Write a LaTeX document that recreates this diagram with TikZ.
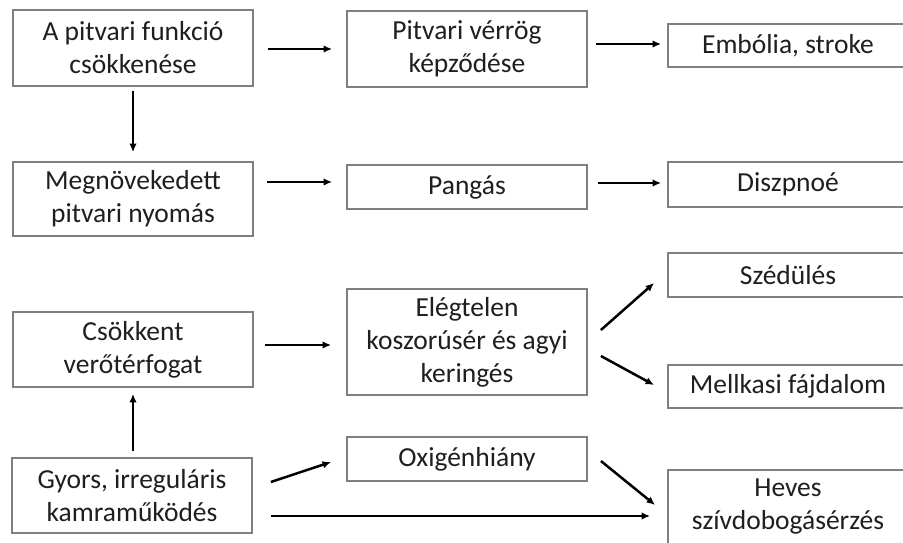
\documentclass[tikz,border=0pt]{standalone}
\usepackage{fontspec}
\setmainfont{Carlito}
\usetikzlibrary{arrows.meta}
\definecolor{boxline}{HTML}{7F7F7F}
\definecolor{txt}{HTML}{1F1F1F}
\begin{document}
\begin{tikzpicture}[x=1pt,y=-1pt,
  box/.style={draw=boxline,line width=1.8pt,fill=white,text=txt,align=center,
    minimum width=240pt,inner sep=0pt,font=\fontsize{27.5}{33}\selectfont},
  arr/.style={-{Latex[length=8.5pt,width=7.5pt]},line width=2.5pt,black}]
\useasboundingbox (0,0) rectangle (903,543);
\clip (0,0) rectangle (903,543);
\fill[white] (0,0) rectangle (903,543);
\node[box,minimum height=76pt] (A) at (133,48) {A pitvari funkció\\csökkenése};
\node[box,minimum height=76pt] (B) at (467,49) {Pitvari vérrög\\képződése};
\node[box,minimum height=43pt] (C) at (788,45.5) {Embólia, stroke};
\node[box,minimum height=74pt] (D) at (133,199) {Megnövekedett\\pitvari nyomás};
\node[box,minimum height=44pt] (E) at (467,187) {Pangás};
\node[box,minimum height=45pt] (F) at (788,184.5) {Diszpnoé};
\node[box,minimum height=44pt] (G) at (788,275) {Szédülés};
\node[box,minimum height=75pt] (H) at (133,349.5) {Csökkent\\verőtérfogat};
\node[box,minimum height=106pt] (I) at (467,342) {Elégtelen\\koszorúsér és agyi\\keringés};
\node[box,minimum height=43pt] (J) at (788,386.5) {Mellkasi fájdalom};
\node[box,minimum height=44pt] (K) at (467,459) {Oxigénhiány};
\node[box,minimum height=75pt] (L) at (132,495.5) {Gyors, irreguláris\\kamraműködés};
\node[box,minimum height=74pt] (M) at (788,507) {Heves\\szívdobogásérzés};

\draw[arr] ([xshift=14pt,yshift=-1pt]A.east) -- ([xshift=-14pt,yshift=0pt]B.west);
\draw[arr] ([xshift=8pt,yshift=5pt]B.east) -- ([xshift=-6pt,yshift=1.5pt]C.west);
\draw[arr] ([yshift=-4pt]A.south) -- ([yshift=9pt]D.north);
\draw[arr] ([xshift=13pt,yshift=17pt]D.east) -- ([xshift=-14pt,yshift=5pt]E.west);
\draw[arr] ([xshift=10pt,yshift=4pt]E.east) -- ([xshift=-6pt,yshift=1.5pt]F.west);
\draw[arr] ([xshift=11pt,yshift=4.5pt]H.east) -- ([xshift=-15pt,yshift=-3pt]I.west);
\draw[arr] ([xshift=1pt,yshift=6pt]L.north) -- ([xshift=0pt,yshift=-6pt]H.south);
\draw[arr] ([xshift=13pt,yshift=12pt]I.east) -- ([xshift=-13pt,yshift=-8pt]G.west);
\draw[arr] ([xshift=13pt,yshift=-14pt]I.east) -- ([xshift=-13pt,yshift=1.5pt]J.west);
\draw[arr] ([xshift=18pt,yshift=13.5pt]L.east) -- ([xshift=-15pt,yshift=-3pt]K.west);
\draw[arr] ([xshift=13pt,yshift=-2pt]K.east) -- ([xshift=-12pt,yshift=2pt]M.west);
\draw[arr] ([xshift=18pt,yshift=-20.5pt]L.east) -- ([xshift=-17pt,yshift=-9pt]M.west);
\end{tikzpicture}
\end{document}
